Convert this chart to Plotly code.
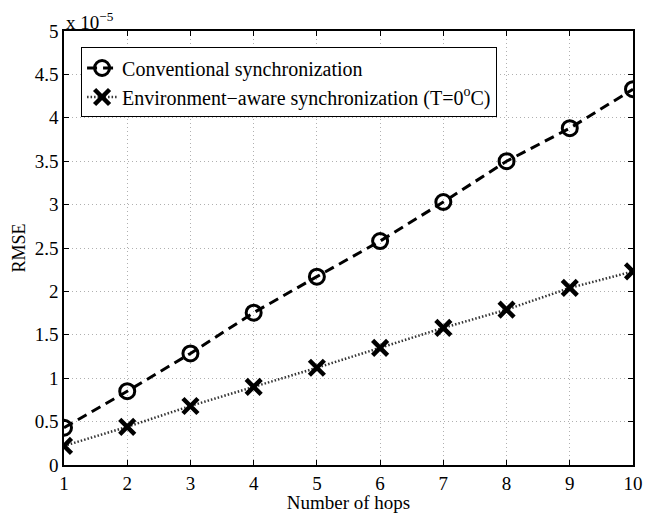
import plotly.graph_objects as go

hops = [1, 2, 3, 4, 5, 6, 7, 8, 9, 10]
conventional = [0.43, 0.85, 1.285, 1.755, 2.17, 2.58, 3.03, 3.50, 3.88, 4.33]
env_aware = [0.22, 0.44, 0.68, 0.90, 1.12, 1.35, 1.58, 1.79, 2.04, 2.23]
names = ["Conventional synchronization", "Environment\u2212aware synchronization (T=0<sup>o</sup>C)"]
yticks = [0, 0.5, 1, 1.5, 2, 2.5, 3, 3.5, 4, 4.5, 5]
ytick_text = ["0", "0.5", "1", "1.5", "2", "2.5", "3", "3.5", "4", "4.5", "5"]

FONT = "Liberation Serif, Times New Roman, serif"

fig = go.Figure()
fig.add_trace(go.Scatter(
    x=hops, y=conventional, name=names[0], mode="lines+markers",
    line=dict(color="black", width=3, dash="10px,6px"),
    marker=dict(symbol="circle-open", size=15, color="black", line=dict(width=3)),
))
fig.add_trace(go.Scatter(
    x=hops, y=env_aware, name=names[1], mode="lines+markers",
    line=dict(color="#333333", width=2.5, dash="1.5px,2px"),
    marker=dict(symbol="x-thin", size=15, color="black", line=dict(width=4.5, color="black")),
))

fig.update_layout(
    width=657, height=513,
    margin=dict(l=64, r=24, t=31, b=48),
    paper_bgcolor="white", plot_bgcolor="white",
    font=dict(family=FONT, size=19, color="black"),
    showlegend=True,
    legend=dict(
        x=0.03, y=0.962, xanchor="left", yanchor="top",
        bgcolor="white", bordercolor="black", borderwidth=1,
        font=dict(family=FONT, size=20, color="black"),
        itemwidth=30, tracegroupgap=0,
    ),
    xaxis=dict(
        range=[1, 10], tickvals=hops, ticks="inside", ticklen=5, tickcolor="black",
        showline=True, linecolor="black", linewidth=1.5, mirror="ticks",
        showgrid=True, gridcolor="#b0b0b0", griddash="1px,3px", gridwidth=1,
        zeroline=False, automargin=False,
        title=dict(text="Number of hops", font=dict(family=FONT, size=19), standoff=0),
        tickfont=dict(family=FONT, size=19),
    ),
    yaxis=dict(
        range=[0, 5], tickvals=yticks, ticktext=ytick_text, ticks="inside", ticklen=5, tickcolor="black",
        showline=True, linecolor="black", linewidth=1.5, mirror="ticks",
        showgrid=True, gridcolor="#b0b0b0", griddash="1px,3px", gridwidth=1,
        zeroline=False, automargin=False,
        title=dict(text="RMSE", font=dict(family=FONT, size=18), standoff=4),
        tickfont=dict(family=FONT, size=19),
    ),
    annotations=[dict(
        text="x 10<sup>\u22125</sup>", xref="paper", yref="paper", x=0.0, y=1.0,
        xanchor="left", yanchor="bottom", showarrow=False,
        font=dict(family=FONT, size=19, color="black"), yshift=-4,
    )],
)

fig.write_html("out.html")
